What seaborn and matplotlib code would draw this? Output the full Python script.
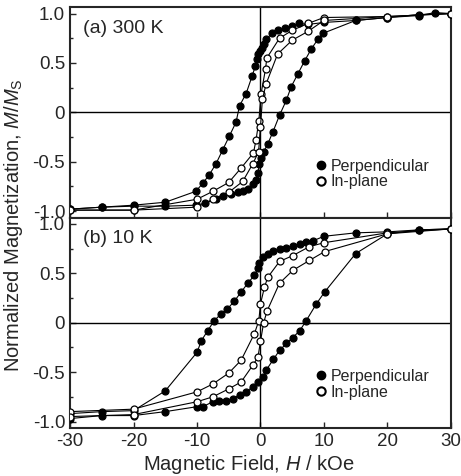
import numpy as np
import pandas as pd
import matplotlib
matplotlib.use("Agg")
import matplotlib.pyplot as plt
from matplotlib.lines import Line2D
from matplotlib.ticker import MultipleLocator
import seaborn as sns

# 300 K, perpendicular
perp300_down_h = [30, 27.5, 25, 20, 15, 10, 7.5, 6, 4.9, 3.9, 2.8, 1.85, 0.9, 0.5, 0.2, -0.04, -0.36, -0.5, -0.8,
                  -1.3, -2.26, -3.3, -3.85, -4.9, -5.95, -7, -8.05, -9.1, -10.2, -15, -20, -25, -30]
perp300_down_m = [1.0, 1.01, 0.98, 0.96, 0.93, 0.91, 0.89, 0.90, 0.87, 0.85, 0.83, 0.80, 0.74, 0.69, 0.65, 0.62, 0.59,
                  0.54, 0.47, 0.37, 0.19, 0.066, -0.10, -0.24, -0.38, -0.52, -0.63, -0.72, -0.80, -0.91, -0.94, -0.96, -0.98]
perp300_up_h = [-30, -25, -20, -15, -10.2, -8.8, -7, -5.9, -4.6, -3.6, -2.8, -2, -1.2, -0.7, -0.4, -0.16, 0.1,
                0.5, 1.15, 1.95, 3, 4.06, 4.85, 5.9, 6.95, 8.0, 9.05, 9.85, 15, 20, 25, 30]
perp300_up_m = [-0.98, -0.96, -0.95, -0.95, -0.94, -0.92, -0.88, -0.85, -0.83, -0.81, -0.80, -0.78, -0.73, -0.68,
                -0.61, -0.52, -0.46, -0.40, -0.32, -0.20, -0.03, 0.12, 0.26, 0.39, 0.52, 0.64, 0.74, 0.80, 0.93, 0.96, 0.99, 1.0]

# 300 K, in-plane
inpl300_down_h = [30, 20, 10, 7.5, 5, 3, 1, 0.8, 0.1, -0.26, -0.7, -1.1, -3, -5, -7.5, -10, -20, -30]
inpl300_down_m = [1.0, 0.97, 0.96, 0.90, 0.83, 0.75, 0.55, 0.44, 0.19, -0.09, -0.28, -0.41, -0.56, -0.71, -0.80, -0.88, -0.99, -0.99]
inpl300_up_h = [-30, -20, -10, -7.5, -5, -2.8, -1.2, -0.3, 0, 0.3, 0.9, 2.7, 5, 7.5, 10, 20, 30]
inpl300_up_m = [-0.99, -0.99, -0.96, -0.88, -0.81, -0.70, -0.52, -0.40, -0.15, 0.13, 0.29, 0.59, 0.73, 0.82, 0.93, 0.97, 1.0]

# 10 K, perpendicular
perp10_down_h = [30, 25, 20, 15, 10, 8.3, 7.2, 6.2, 5.1, 4.05, 3, 1.95, 1.15, 0.37, -0.16, -0.4, -0.95, -2, -3.05,
                 -4.1, -5.2, -6.2, -7.3, -8.3, -9.3, -10, -15, -20, -25, -30]
perp10_down_m = [0.95, 0.94, 0.92, 0.91, 0.875, 0.83, 0.82, 0.80, 0.78, 0.76, 0.75, 0.73, 0.70, 0.67, 0.60, 0.55, 0.48,
                 0.40, 0.31, 0.22, 0.14, 0.09, 0.02, -0.08, -0.18, -0.30, -0.69, -0.89, -0.90, -0.92]
perp10_up_h = [-30, -25, -20, -15, -10, -9.1, -7.5, -6.5, -5.4, -4.4, -3.3, -2.3, -1.2, -0.4, 0.4, 0.9, 2.05, 3,
               4.1, 5.1, 6.2, 7.2, 8.8, 10.1, 15, 20, 25, 30]
perp10_up_m = [-0.97, -0.94, -0.94, -0.90, -0.85, -0.85, -0.80, -0.79, -0.79, -0.77, -0.73, -0.70, -0.65, -0.60,
               -0.55, -0.48, -0.37, -0.28, -0.21, -0.15, -0.08, 0.02, 0.19, 0.31, 0.70, 0.90, 0.94, 0.95]

# 10 K, in-plane
inpl10_down_h = [30, 20, 10, 7.7, 5.1, 3, 1.15, 0.63, 0, -0.26, -0.95, -3.05, -5, -7.5, -10, -20, -30]
inpl10_down_m = [0.95, 0.91, 0.81, 0.77, 0.68, 0.62, 0.46, 0.36, 0.19, 0.02, -0.11, -0.38, -0.51, -0.62, -0.70, -0.875, -0.90]
inpl10_up_h = [-30, -20, -10, -7.5, -5, -3.05, -1.2, -0.4, 0, 0.5, 1.05, 3, 5.1, 7.7, 10.1, 20, 30]
inpl10_up_m = [-0.95, -0.93, -0.80, -0.75, -0.67, -0.60, -0.43, -0.35, -0.19, 0.0, 0.12, 0.40, 0.53, 0.63, 0.72, 0.90, 0.95]

panel_labels = ["(a) 300 K", "(b) 10 K"]
ytick_vals = [-1.0, -0.5, 0, 0.5, 1.0]
ytick_labels = ["-1.0", "-0.5", "0", "0.5", "1.0"]
xtick_vals = [-30, -20, -10, 0, 10, 20, 30]
xtick_labels = ["-30", "-20", "-10", "0", "10", "20", "30"]

sns.set_style("ticks")
plt.rcParams["font.family"] = ["Liberation Sans", "DejaVu Sans"]
plt.rcParams["mathtext.fontset"] = "custom"
plt.rcParams["mathtext.rm"] = "Liberation Sans"
plt.rcParams["mathtext.it"] = "Liberation Sans:italic"
plt.rcParams["axes.unicode_minus"] = False

fig, axes = plt.subplots(2, 1, figsize=(4.61, 4.76), dpi=100, sharex=True)
fig.subplots_adjust(left=0.152, right=0.978, top=0.985, bottom=0.101, hspace=0.0)

panels = [
    [(perp300_down_h, perp300_down_m, "k"), (perp300_up_h, perp300_up_m, "k"),
     (inpl300_down_h, inpl300_down_m, "white"), (inpl300_up_h, inpl300_up_m, "white")],
    [(perp10_down_h, perp10_down_m, "k"), (perp10_up_h, perp10_up_m, "k"),
     (inpl10_down_h, inpl10_down_m, "white"), (inpl10_up_h, inpl10_up_m, "white")],
]

for ax, series, label in zip(axes, panels, panel_labels):
    ax.axhline(0, color="k", lw=1.0, zorder=1)
    ax.axvline(0, color="k", lw=1.0, zorder=1)
    for h, m, face in series:
        df = pd.DataFrame({"H": h, "M": m})
        sns.lineplot(data=df, x="H", y="M", sort=False, estimator=None, ax=ax,
                     color="k", lw=0.8, marker="o", markersize=5,
                     markerfacecolor=face, markeredgecolor="k", markeredgewidth=0.9, zorder=3)
    ax.set_xlim(-30, 30)
    ax.set_ylim(-1.065, 1.065)
    ax.set_yticks(ytick_vals)
    ax.set_yticklabels(ytick_labels)
    ax.yaxis.set_minor_locator(MultipleLocator(0.25))
    ax.set_xticks(xtick_vals)
    ax.tick_params(axis="both", which="both", direction="in", labelsize=13.5, width=1.0)
    ax.tick_params(which="major", length=4)
    ax.tick_params(which="minor", length=2.5)
    ax.set_xlabel("")
    ax.set_ylabel("")
    for sp in ax.spines.values():
        sp.set_linewidth(1.5)
    ax.text(0.034, 0.90, label, transform=ax.transAxes, fontsize=14, va="center", ha="left")

    handles = [
        Line2D([], [], ls="none", marker="o", markersize=6, mfc="k", mec="k", mew=1.0),
        Line2D([], [], ls="none", marker="o", markersize=6, mfc="white", mec="k", mew=1.5),
    ]
    ax.legend(handles, ["Perpendicular", "In-plane"], loc="upper left", bbox_to_anchor=(0.646, 0.28),
              frameon=False, fontsize=11.5, handlelength=0.6, handletextpad=0.3,
              labelspacing=0.05, borderpad=0.0, borderaxespad=0.0)

axes[1].set_xticklabels(xtick_labels)
axes[1].set_xlabel("Magnetic Field, $H$ / kOe", fontsize=14.5, labelpad=2)
axes[1].xaxis.label.set_x(0.47)
fig.text(0.03, 0.527, "Normalized Magnetization, $M$/$M_\\mathrm{S}$", rotation=90,
         fontsize=14.5, ha="center", va="center")

fig.savefig("out.png", dpi=100)
